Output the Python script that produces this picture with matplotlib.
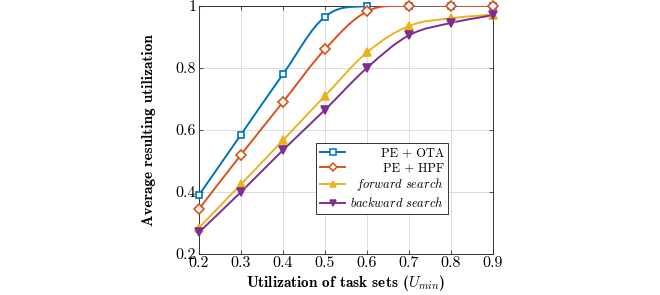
import numpy as np
import matplotlib.pyplot as plt
from matplotlib.path import Path
from matplotlib.patches import PathPatch
from matplotlib.lines import Line2D
from matplotlib.offsetbox import HPacker, DrawingArea

plt.rcParams['font.family'] = 'cmr10'
plt.rcParams['mathtext.fontset'] = 'cm'
plt.rcParams['axes.formatter.use_mathtext'] = True

u_min = [0.2, 0.3, 0.4, 0.5, 0.6, 0.7, 0.8, 0.9]
pe_ota = [0.39, 0.585, 0.78, 0.965, 1.0, 1.0, 1.0, 1.0]
pe_hpf = [0.345, 0.52, 0.69, 0.86, 0.982, 1.0, 1.0, 1.0]
forward = [0.285, 0.425, 0.567, 0.71, 0.85, 0.935, 0.96, 0.972]
backward = [0.27, 0.40, 0.535, 0.665, 0.80, 0.905, 0.945, 0.97]

series = [
    (pe_ota, "PE + OTA", "#0072BD", "s", True),
    (pe_hpf, "PE + HPF", "#D95319", "D", True),
    (forward, r"$\mathit{forward\ search}$", "#EDB120", "^", False),
    (backward, r"$\mathit{backward\ search}$", "#7E2F8E", "v", False),
]


def smooth_path(x, y, t=0.55 / 3):
    # bezier through the points, like pgfplots "smooth"
    p = np.column_stack([x, y])
    verts = [p[0]]
    codes = [Path.MOVETO]
    n = len(p)
    for i in range(n - 1):
        d0 = p[i + 1] - p[i - 1] if i > 0 else p[i + 1] - p[i]
        d1 = p[i + 2] - p[i] if i + 2 < n else p[i + 1] - p[i]
        verts += [p[i] + t * d0, p[i + 1] - t * d1, p[i + 1]]
        codes += [Path.CURVE4] * 3
    return Path(verts, codes)


fig = plt.figure(figsize=(6.6, 2.95), dpi=100)
ax = fig.add_axes([0.3015, 0.139, 0.4455, 0.841])

handles = []
for vals, label, color, mk, hollow in series:
    ax.add_patch(PathPatch(smooth_path(u_min, vals), fill=False,
                           edgecolor=color, lw=1.4, zorder=3))
    ms = 4.8 if mk == "s" else (5.3 if mk == "D" else 5.8)
    ax.plot(u_min, vals, ls="none", marker=mk, ms=ms, mew=1.2,
            mec=color, mfc="white" if hollow else color, zorder=4,
            clip_on=False)
    handles.append(Line2D([], [], color=color, lw=1.4, marker=mk,
                          ms=ms * 0.85, mew=1.1, mec=color,
                          mfc="white" if hollow else color))

ax.set_xlim(0.2, 0.9)
ax.set_ylim(0.2, 1.0)
ax.set_xticks(u_min)
ax.set_yticks([0.2, 0.4, 0.6, 0.8, 1.0])
ax.set_xticklabels(["0.2", "0.3", "0.4", "0.5", "0.6", "0.7", "0.8", "0.9"])
ax.set_yticklabels(["0.2", "0.4", "0.6", "0.8", "1"])
ax.tick_params(direction="in", labelsize=11.5, length=3, color="#555555",
               top=True, right=True, pad=2)
ax.grid(True, color="#dcdcdc", lw=0.7)
ax.set_axisbelow(True)
for s in ax.spines.values():
    s.set_color("#333333")
    s.set_linewidth(0.7)

ax.set_xlabel(r"Utilization of task sets ($U_{min}$)", fontsize=11,
              family="cmb10", labelpad=2)
ax.set_ylabel("Average resulting utilization", fontsize=11,
              family="cmb10", labelpad=14)

leg = ax.legend(handles, [s[1] for s in series], loc="upper left",
                bbox_to_anchor=(0.398, 0.448), borderaxespad=0,
                fontsize=9, fancybox=False, edgecolor="#333333",
                framealpha=1, handlelength=2.0, borderpad=0.35,
                labelspacing=0.2, handletextpad=0.4)
leg.get_frame().set_linewidth(0.7)
leg.set_zorder(5)

# right-align legend labels, as in pgfplots
fig.canvas.draw()
renderer = fig.canvas.get_renderer()
for column in leg._legend_handle_box.get_children():
    items = column.get_children()
    widths = [it.get_children()[1].get_bbox(renderer).width for it in items]
    wmax = max(widths)
    for it, w in zip(items, widths):
        tb = it.get_children()[1]
        pad = DrawingArea((wmax - w) * 72 / fig.dpi, 0)
        it._children[1] = HPacker(children=[pad, tb], pad=0, sep=0,
                                  align="baseline")

fig.savefig("out.png", dpi=100)
